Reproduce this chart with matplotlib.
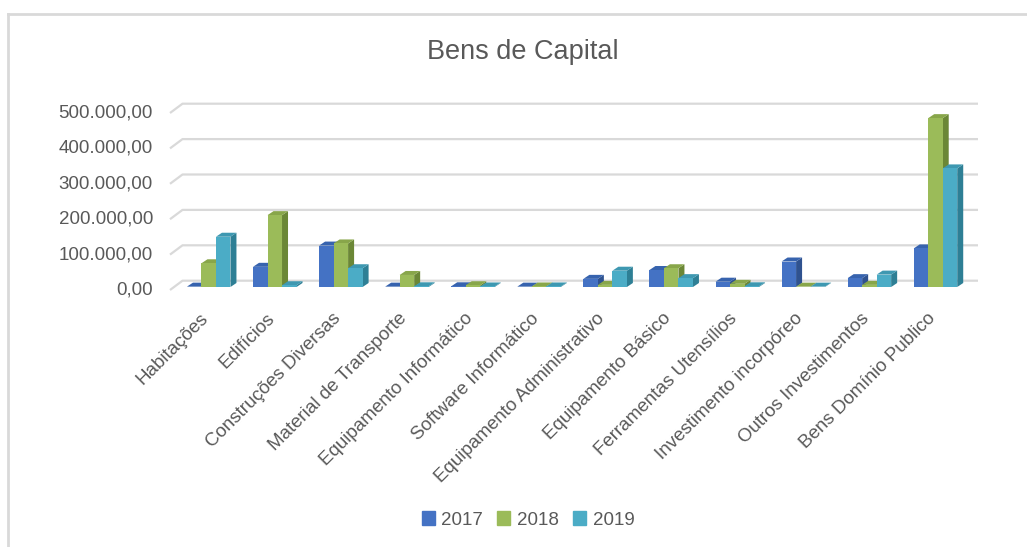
import numpy as np
import matplotlib
matplotlib.use("Agg")
import matplotlib.pyplot as plt
from matplotlib.patches import Polygon, Patch
from matplotlib.lines import Line2D

categories = [
    "Habitações", "Edifícios", "Construções Diversas", "Material de Transporte",
    "Equipamento Informático", "Software Informático", "Equipamento Administrativo",
    "Equipamento Básico", "Ferramentas Utensílios", "Investimento incorpóreo",
    "Outros Investimentos", "Bens Domínio Publico",
]
years = ["2017", "2018", "2019"]
v2017 = [1000, 57000, 117000, 1000, 2000, 1000, 23000, 48000, 15000, 72000, 25000, 109000]
v2018 = [67000, 203000, 123000, 34000, 5000, 1500, 6000, 53000, 9000, 1000, 6000, 477000]
v2019 = [142000, 5000, 53000, 2000, 1500, 1500, 46000, 25000, 2000, 1000, 35000, 335000]
yticks = [0, 100000, 200000, 300000, 400000, 500000]
tick_labels = ["0,00", "100.000,00", "200.000,00", "300.000,00", "400.000,00", "500.000,00"]

front = ["#4472C4", "#9BBB59", "#4BACC6"]
side = ["#2F528F", "#6B8736", "#2E7F95"]
top = ["#3763AE", "#88A64A", "#3E98B1"]
text_col = "#595959"
grid_col = "#D9D9D9"

plt.rcParams["font.family"] = ["Liberation Sans", "DejaVu Sans"]

W, H = 1027, 547
fig = plt.figure(figsize=(W / 100, H / 100), dpi=100)
ax = fig.add_axes([0, 0, 1, 1])

# pixel scale of the chart (front plane of the bars)
XS = 66.07          # px per category
X0 = 208.7          # px of first category centre
YS = 35.4 / 100000  # px per value unit
Y0 = 287.0          # px (from top) of the bar base

ax.set_xlim(-X0 / XS, (W - X0) / XS)
ax.set_ylim((Y0 - H) / YS, Y0 / YS)
ax.axis("off")


def px_x(p):
    return p / XS


def px_y(p):
    return p / YS


# back wall gridlines
x_left = (170 - X0) / XS
wall_dx = px_x(12.5)
floor_dy = px_y(3)
wall_dy = px_y(9.3)
x_right = (978 - X0) / XS
for v, lab in zip(yticks, tick_labels):
    yf = v - floor_dy
    yb = yf + wall_dy
    ax.plot([x_left, x_left + wall_dx, x_right], [yf, yb, yb],
            color=grid_col, lw=1.6, zorder=1, solid_capstyle="butt")
    ax.text((153 - X0) / XS, yf, lab, ha="right", va="center",
            fontsize=13.5, color=text_col)

# 3D-looking bars
series = [v2017, v2018, v2019]
bw = 14.5 / XS
ddx = px_x(6)
ddy = px_y(4)
x = np.arange(len(categories))
handles = []
for i, vals in enumerate(series):
    xs = x + (i - 1) * bw
    ax.bar(xs, vals, bw, color=front[i], zorder=3 + 2 * i, linewidth=0)
    handles.append(Patch(color=front[i]))
    for xc, v in zip(xs, vals):
        x0, x1 = xc - bw / 2, xc + bw / 2
        ax.add_patch(Polygon([(x1, 0), (x1 + ddx, ddy), (x1 + ddx, v + ddy), (x1, v)],
                             closed=True, color=side[i], lw=0, zorder=2 + 2 * i))
        ax.add_patch(Polygon([(x0, v), (x1, v), (x1 + ddx, v + ddy), (x0 + ddx, v + ddy)],
                             closed=True, color=top[i], lw=0, zorder=2 + 2 * i))

# category labels
for xc, name in zip(x, categories):
    ax.text(xc - px_x(3), -px_y(29), name, rotation=45, rotation_mode="anchor",
            ha="right", va="center", fontsize=13.5, color=text_col)

# title
fig.text(523 / W, 1 - 52 / H, "Bens de Capital", ha="center", va="center",
         fontsize=19.5, color=text_col)

# legend
fig.legend(handles, years, loc="center", bbox_to_anchor=(528 / W, 1 - 520 / H),
           ncol=3, frameon=False, fontsize=13.5, handlelength=0.7, handleheight=0.7,
           handletextpad=0.35, columnspacing=0.75, labelcolor=text_col)

# chart area border (top and left visible)
fig.add_artist(Line2D([8 / W, 1], [1 - 14 / H, 1 - 14 / H], color=grid_col, lw=2))
fig.add_artist(Line2D([8 / W, 8 / W], [0, 1 - 14 / H], color=grid_col, lw=2))

fig.savefig("out.png", dpi=100)
